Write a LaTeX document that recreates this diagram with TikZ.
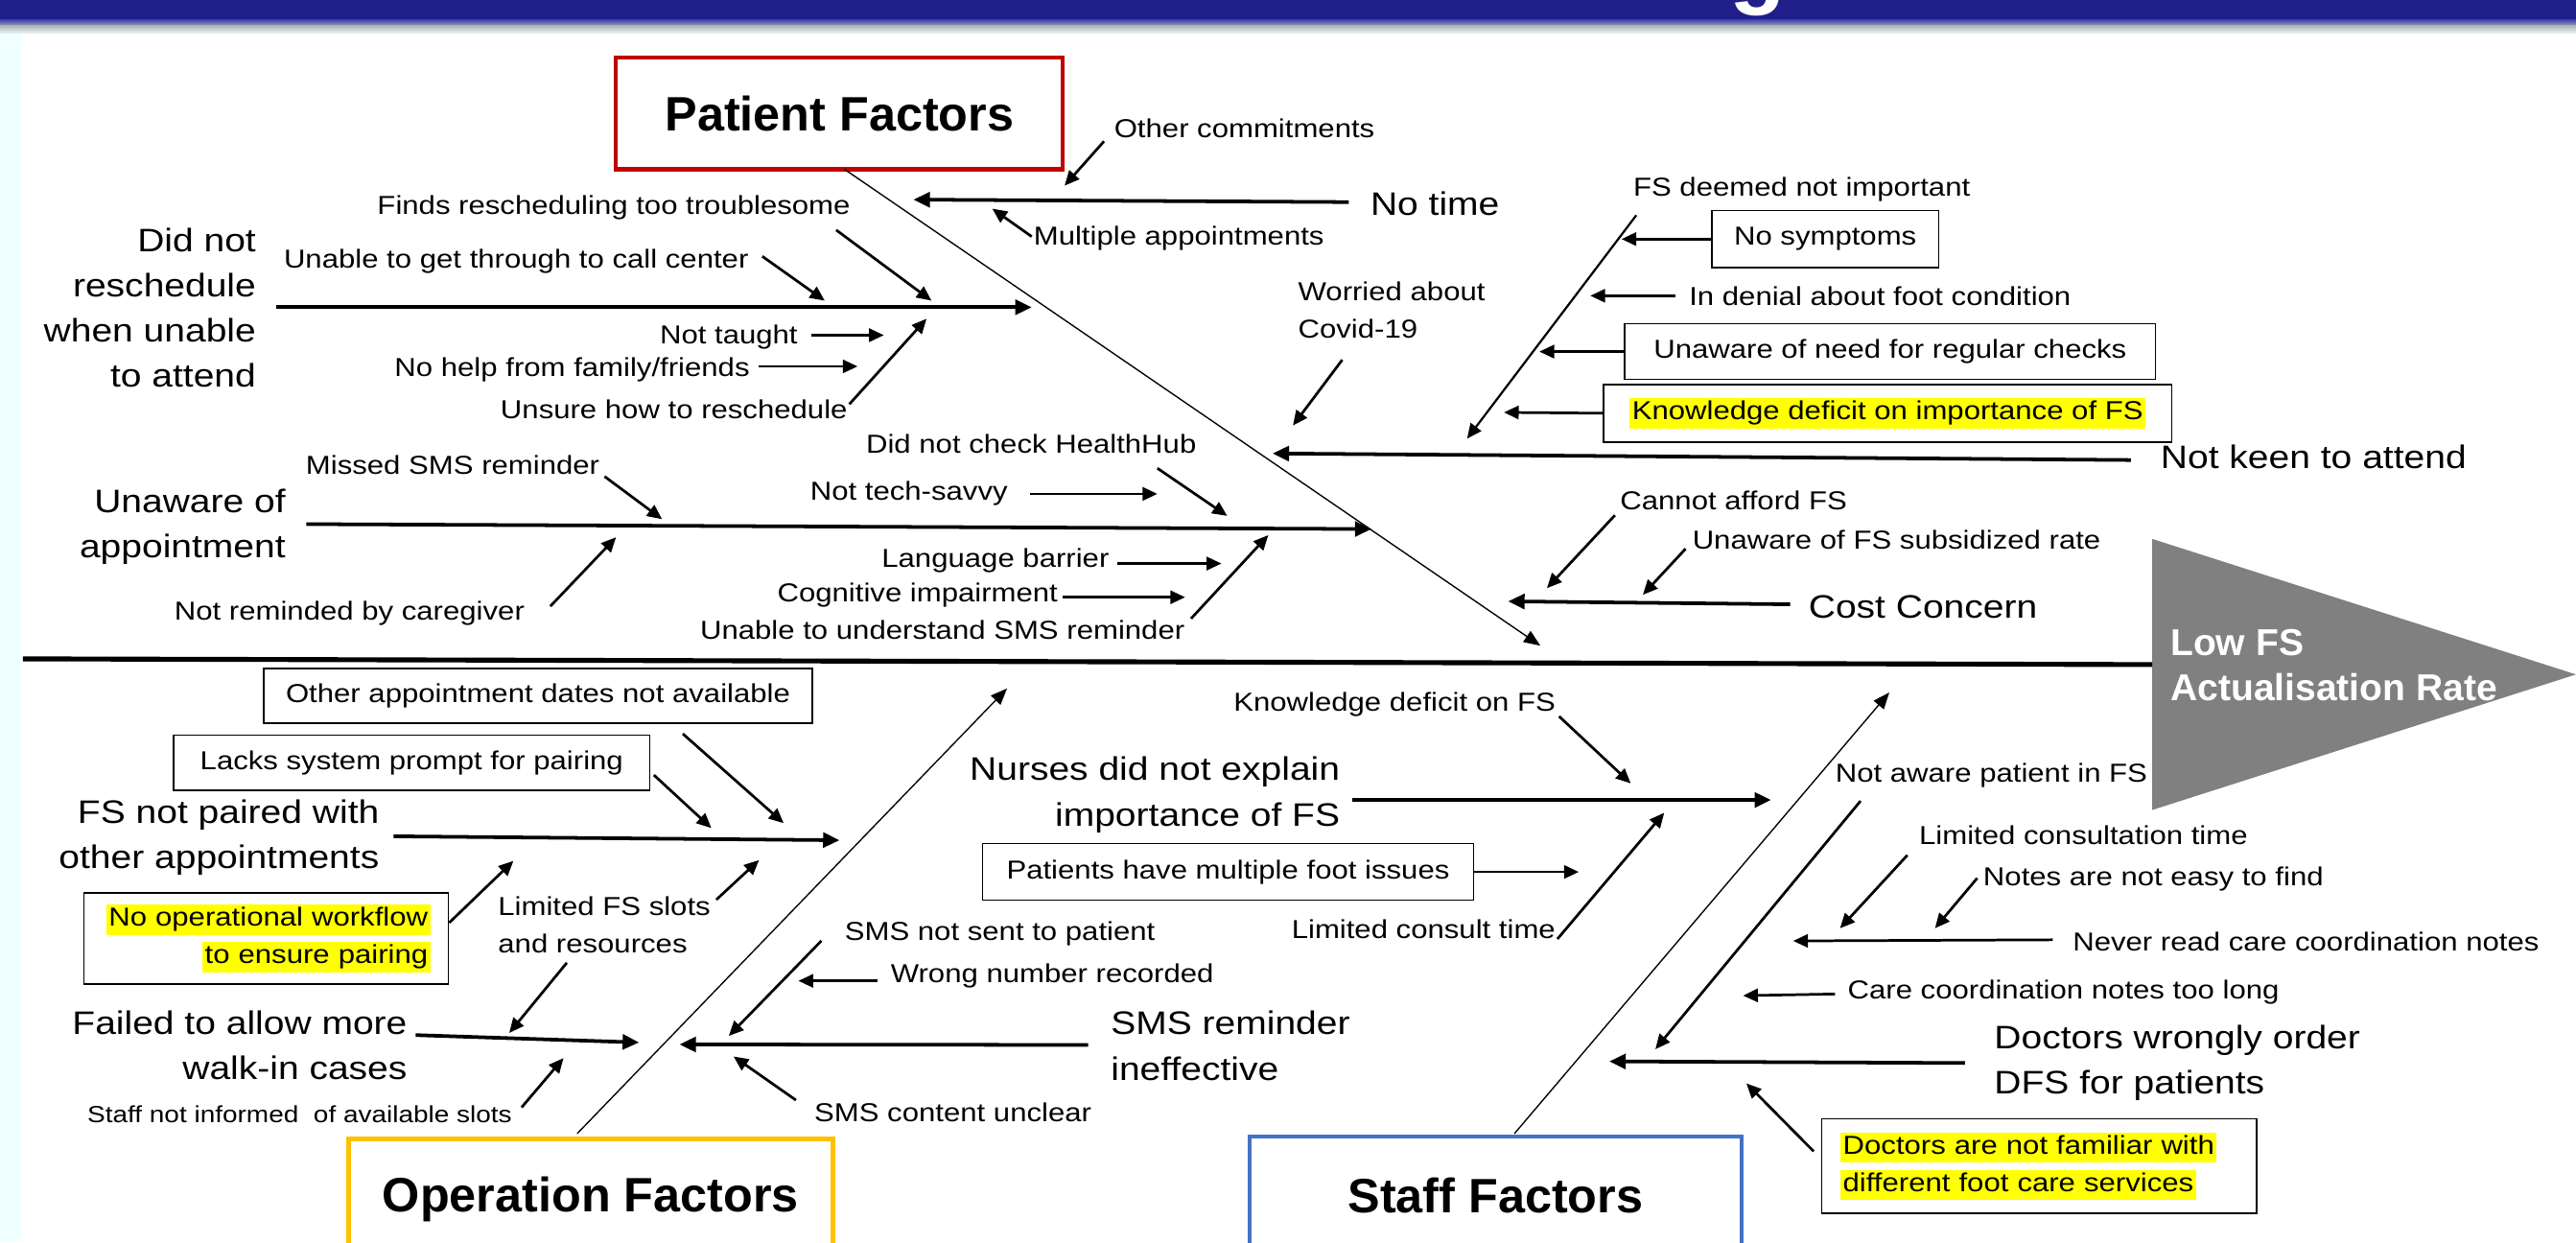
\documentclass[tikz,border=0pt]{standalone}
\usepackage{fontspec}
\setmainfont[FakeStretch=1.15]{Liberation Sans}
\newfontfamily\hdfont{Liberation Sans}
\usetikzlibrary{arrows.meta}

\definecolor{bandblue}{RGB}{32,31,138}
\definecolor{bandmid}{RGB}{70,70,170}
\definecolor{bandlow}{RGB}{150,150,188}
\definecolor{fadetop}{RGB}{172,182,180}
\definecolor{fadebot}{RGB}{236,246,246}
\definecolor{stripcyan}{RGB}{240,255,255}
\definecolor{patred}{RGB}{192,0,0}
\definecolor{opyellow}{RGB}{255,192,0}
\definecolor{stblue}{RGB}{68,114,196}
\definecolor{effgray}{RGB}{128,128,128}
\definecolor{hiyellow}{RGB}{255,255,0}

% yellow text highlight
\newcommand{\hlt}[1]{{\setlength{\fboxsep}{1.5pt}\colorbox{hiyellow}{\rule[-0.24em]{0pt}{0.98em}#1}}}

\begin{document}
\begin{tikzpicture}[x=1pt,y=-1pt,
  big/.style={font=\fontsize{19.8}{27.5}\selectfont, inner sep=0pt},
  med/.style={font=\fontsize{15.8}{22.8}\selectfont, inner sep=0pt},
  sml/.style={font=\fontsize{14.2}{17}\selectfont, inner sep=0pt},
  cat/.style={font=\hdfont\bfseries\fontsize{29.4}{32}\selectfont, line width=2.4pt, inner sep=0pt, fill=white},
  causebox/.style={draw=black, line width=0.9pt, inner sep=0pt, fill=white},
  spine/.style={line width=3pt},
  branch/.style={line width=2.2pt, -{Triangle[length=10pt,width=9pt]}},
  arr/.style={line width=1.6pt, -{Triangle[length=9pt,width=8pt]}},
  bone/.style={line width=0.8pt, -{Triangle[length=10pt,width=8pt]}},
]
\useasboundingbox (0,0) rectangle (1568,756);
\clip (0,0) rectangle (1568,756);

% slide background
\fill[white] (0,0) rectangle (1568,756);
\fill[stripcyan] (0,20) rectangle (13,756);
\fill[bandblue] (0,0) rectangle (1568,12.2);
\shade[top color=bandmid, bottom color=bandlow] (0,12) rectangle (1568,15.6);
\shade[top color=fadetop, bottom color=fadebot] (0,15.5) rectangle (1568,20.4);
\begin{scope}
  \clip (0,0) rectangle (1568,12.2);
  \node[text=white, font=\hdfont\bfseries\fontsize{56}{60}\selectfont, anchor=base, inner sep=0pt] (ttl) at (1070,-2) {g};
\end{scope}

% head and spine
\fill[effgray] (1310,328) -- (1568,410.5) -- (1310,493) -- cycle;
\node[font=\hdfont\bfseries\fontsize{22.8}{27.4}\selectfont, text=white, align=left, anchor=west, inner sep=0pt] (eff) at (1321,404.7) {Low FS\\Actualisation Rate};
\coordinate (tail) at (14,401);
\coordinate (head) at (1310,404.5);
\draw[spine] (tail) -- (head);

% category boxes
\node[cat, draw=patred, minimum width=272pt, minimum height=68pt] (pf) at (511,69) {Patient Factors};
\node[cat, draw=opyellow, line width=3pt, minimum width=295pt, minimum height=73.4pt] (of) at (359.5,729.7) {Operation Factors};
\node[cat, draw=stblue, minimum width=299.3pt, minimum height=72.2pt] (sf) at (910.3,727.9) {Staff Factors};

% main bones
\coordinate (pBoneS) at (514,103);   \coordinate (pBoneT) at (937.6,393);
\coordinate (oBoneS) at (351.3,690); \coordinate (oBoneT) at (613,419);
\coordinate (sBoneS) at (921.8,690); \coordinate (sBoneT) at (1150,421.5);
\draw[bone] (pBoneS) -- (pBoneT);
\draw[bone] (oBoneS) -- (oBoneT);
\draw[bone] (sBoneS) -- (sBoneT);

% ---------------- patient factors ----------------
\node[big, align=right, anchor=east] (pDid) at (156,187.5) {Did not\\reschedule\\when unable\\to attend};
\node[med, anchor=west] (pFinds) at (229.5,126.5) {Finds rescheduling too troublesome};
\node[med, anchor=west] (pCall) at (172.6,159) {Unable to get through to call center};
\node[med, anchor=east] (pTaught) at (485.7,205) {Not taught};
\node[med, anchor=east] (pHelp) at (456.5,225) {No help from family/friends};
\node[med, anchor=east] (pUnsure) at (516,249) {Unsure how to reschedule};

\node[big, align=right, anchor=east] (pUnaware) at (174,320.6) {Unaware of\\appointment};
\node[med, anchor=west] (pMissed) at (186,283) {Missed SMS reminder};
\node[med, anchor=west] (pCare) at (106,373.6) {Not reminded by caregiver};
\node[med, anchor=west] (pHub) at (527,270) {Did not check HealthHub};
\node[med, anchor=west] (pTech) at (493,300.6) {Not tech-savvy};
\node[med, anchor=west] (pLang) at (536.5,341) {Language barrier};
\node[med, anchor=west] (pCog) at (473,362) {Cognitive impairment};
\node[med, anchor=west] (pSMS) at (426,383.5) {Unable to understand SMS reminder};

\node[big, anchor=west] (pTime) at (834,124) {No time};
\node[med, anchor=west] (pOther) at (678,78) {Other commitments};
\node[med, anchor=west] (pMulti) at (629,145) {Multiple appointments};
\node[med, align=left, anchor=west] (pCovid) at (790,189) {Worried about\\Covid-19};

\node[med, anchor=west] (pDeemed) at (994,115) {FS deemed not important};
\node[med, causebox, minimum width=138pt, minimum height=35pt] (pSympt) at (1111,145.5) {No symptoms};
\node[med, anchor=west] (pDenial) at (1028,180) {In denial about foot condition};
\node[med, causebox, minimum width=323pt, minimum height=34pt] (pChecks) at (1150.5,214) {Unaware of need for regular checks};
\node[med, causebox, minimum width=346pt, minimum height=35pt] (pKnow) at (1149,251.5) {\hlt{Knowledge deficit on importance of FS}};
\node[big, anchor=west] (pKeen) at (1315,278) {Not keen to attend};

\node[med, anchor=west] (pAfford) at (986,304.5) {Cannot afford FS};
\node[med, anchor=west] (pRate) at (1030,328.8) {Unaware of FS subsidized rate};
\node[big, anchor=west] (pCost) at (1100.7,369.6) {Cost Concern};

% did not reschedule
\coordinate (pDidS) at (168,187);    \coordinate (pDidT) at (628,187);
\coordinate (pFindsS) at (509,140);  \coordinate (pFindsT) at (567,183);
\coordinate (pCallS) at (464,156);   \coordinate (pCallT) at (502,183);
\coordinate (pTaughtS) at (494,204); \coordinate (pTaughtT) at (538,204);
\coordinate (pHelpS) at (462,223);   \coordinate (pHelpT) at (522,223);
\coordinate (pUnsureS) at (517,246); \coordinate (pUnsureT) at (564,194);
\draw[branch] (pDidS) -- (pDidT);
\draw[arr] (pFindsS) -- (pFindsT);
\draw[arr] (pCallS) -- (pCallT);
\draw[arr] (pTaughtS) -- (pTaughtT);
\draw[arr] (pHelpS) -- (pHelpT);
\draw[arr] (pUnsureS) -- (pUnsureT);

% unaware of appointment
\coordinate (pUnS) at (186.4,319);   \coordinate (pUnT) at (834.8,322);
\coordinate (pMissedS) at (368,290); \coordinate (pMissedT) at (403,316);
\coordinate (pCareS) at (335,369);   \coordinate (pCareT) at (375,327);
\coordinate (pHubS) at (704.5,285);  \coordinate (pHubT) at (747,314);
\coordinate (pTechS) at (627,300.6); \coordinate (pTechT) at (704.5,300.6);
\coordinate (pLangS) at (680,343);   \coordinate (pLangT) at (743.5,343);
\coordinate (pCogS) at (647,363.5);  \coordinate (pCogT) at (721.4,363.5);
\coordinate (pSMSS) at (725,376.5);  \coordinate (pSMST) at (772,325.7);
\draw[branch] (pUnS) -- (pUnT);
\draw[arr] (pMissedS) -- (pMissedT);
\draw[arr] (pCareS) -- (pCareT);
\draw[arr] (pHubS) -- (pHubT);
\draw[arr] (pTechS) -- (pTechT);
\draw[arr] (pLangS) -- (pLangT);
\draw[arr] (pCogS) -- (pCogT);
\draw[arr] (pSMSS) -- (pSMST);

% no time
\coordinate (pTimeS) at (821,123);   \coordinate (pTimeT) at (556,121.5);
\coordinate (pOtherS) at (672,86);   \coordinate (pOtherT) at (648,113);
\coordinate (pMultiS) at (628,144);  \coordinate (pMultiT) at (604,127);
\draw[branch] (pTimeS) -- (pTimeT);
\draw[arr] (pOtherS) -- (pOtherT);
\draw[arr] (pMultiS) -- (pMultiT);

% not keen to attend
\coordinate (pKeenS) at (1297,280);  \coordinate (pKeenT) at (774.6,276);
\coordinate (pDeemS) at (996,131);   \coordinate (pDeemT) at (893,267);
\coordinate (pSymT) at (987,145.5);
\coordinate (pDenS) at (1020,180);   \coordinate (pDenT) at (968,180);
\coordinate (pChkT) at (937,214);
\coordinate (pKnwT) at (915.4,251);
\coordinate (pCovS) at (817,219);    \coordinate (pCovT) at (787,259);
\draw[branch] (pKeenS) -- (pKeenT);
\draw[line width=1.3pt, -{Triangle[length=9pt,width=8pt]}] (pDeemS) -- (pDeemT);
\draw[arr] (pSympt.west) -- (pSymT);
\draw[arr] (pDenS) -- (pDenT);
\draw[arr] (pChecks.west) -- (pChkT);
\draw[arr] (pKnow.west) -- (pKnwT);
\draw[arr] (pCovS) -- (pCovT);

% cost concern
\coordinate (pCostS) at (1089.7,367.8); \coordinate (pCostT) at (918,366);
\coordinate (pAffS) at (983,313.6);     \coordinate (pAffT) at (941.6,358);
\coordinate (pRateS) at (1026,334);     \coordinate (pRateT) at (1000,362);
\draw[branch] (pCostS) -- (pCostT);
\draw[arr] (pAffS) -- (pAffT);
\draw[arr] (pRateS) -- (pRateT);

% ---------------- operation factors ----------------
\node[big, align=right, anchor=east] (oPair) at (231,509.8) {FS not paired with\\other appointments};
\node[med, causebox, minimum width=334pt, minimum height=33pt] (oDates) at (327.5,423.5) {Other appointment dates not available};
\node[med, causebox, minimum width=290pt, minimum height=33.5pt] (oPrompt) at (250.6,464.3) {Lacks system prompt for pairing};
\node[med, causebox, align=right, text width=200pt, inner xsep=11pt, minimum height=55.5pt] (oFlow) at (162,571.2) {\hlt{No operational workflow}\\\hlt{to ensure pairing}};
\node[med, align=left, anchor=west] (oSlots) at (303,562.9) {Limited FS slots\\and resources};
\node[big, align=right, anchor=east] (oWalk) at (248,636.4) {Failed to allow more\\walk-in cases};
\node[sml, anchor=west] (oInform) at (53,678) {Staff not informed~ of available slots};
\node[big, align=left, anchor=west] (oSMS) at (676,636.5) {SMS reminder\\ineffective};
\node[med, anchor=west] (oSent) at (514,568) {SMS not sent to patient};
\node[med, anchor=west] (oWrong) at (542,594) {Wrong number recorded};
\node[med, anchor=west] (oUnclear) at (495.5,677) {SMS content unclear};

\coordinate (oPairS) at (239.5,509);  \coordinate (oPairT) at (511,511.4);
\coordinate (oDatesS) at (415.6,446.6); \coordinate (oDatesT) at (477,501);
\coordinate (oPromptS) at (398,471.7);  \coordinate (oPromptT) at (433,504);
\coordinate (oFlowT) at (312.5,524);
\coordinate (oSlotS) at (436,547.6);  \coordinate (oSlotT) at (462,523.5);
\draw[branch] (oPairS) -- (oPairT);
\draw[arr] (oDatesS) -- (oDatesT);
\draw[arr] (oPromptS) -- (oPromptT);
\draw[arr] (oFlow.east |- 0,561.6) -- (oFlowT);
\draw[arr] (oSlotS) -- (oSlotT);

\coordinate (oWalkS) at (253,630);    \coordinate (oWalkT) at (389,634.5);
\coordinate (oResS) at (345,586);     \coordinate (oResT) at (310,628.7);
\coordinate (oInfS) at (317.5,674);   \coordinate (oInfT) at (343,644);
\draw[branch] (oWalkS) -- (oWalkT);
\draw[arr] (oResS) -- (oResT);
\draw[arr] (oInfS) -- (oInfT);

\coordinate (oSMSS) at (662.4,636);   \coordinate (oSMST) at (413.6,635.7);
\coordinate (oSentS) at (500,572.6);  \coordinate (oSentT) at (443.6,630.5);
\coordinate (oWrongS) at (534,597);   \coordinate (oWrongT) at (486,597);
\coordinate (oUnclS) at (484.5,669.6); \coordinate (oUnclT) at (446.5,643);
\draw[branch] (oSMSS) -- (oSMST);
\draw[arr] (oSentS) -- (oSentT);
\draw[arr] (oWrongS) -- (oWrongT);
\draw[arr] (oUnclS) -- (oUnclT);

% ---------------- staff factors ----------------
\node[med, anchor=west] (sKnow) at (750.7,428.6) {Knowledge deficit on FS};
\node[big, align=right, anchor=east] (sNurse) at (815.8,483.8) {Nurses did not explain\\importance of FS};
\node[med, causebox, minimum width=299pt, minimum height=34.5pt] (sMulti) at (747.5,530.7) {Patients have multiple foot issues};
\node[med, anchor=west] (sConsult) at (786,565.6) {Limited consult time};
\node[med, anchor=west] (sAware) at (1117,471.9) {Not aware patient in FS};
\node[med, anchor=west] (sLimit) at (1168,508.5) {Limited consultation time};
\node[med, anchor=west] (sNotes) at (1207,535) {Notes are not easy to find};
\node[med, anchor=west] (sNever) at (1261.5,573.4) {Never read care coordination notes};
\node[med, anchor=west] (sLong) at (1124.5,604) {Care coordination notes too long};
\node[big, align=left, anchor=west] (sDoc) at (1213.7,646.7) {Doctors wrongly order\\DFS for patients};
\node[med, causebox, align=left, text width=242pt, inner xsep=11.4pt, minimum height=57.5pt] (sFam) at (1241.3,709.8) {\hlt{Doctors are not familiar with}\\\hlt{different foot care services}};

\coordinate (sNurseS) at (823,486.9);  \coordinate (sNurseT) at (1078,486.9);
\coordinate (sKnowS) at (949,436);     \coordinate (sKnowT) at (992.6,476.8);
\coordinate (sMultiT) at (961,530.7);
\coordinate (sConsS) at (948,571.5);   \coordinate (sConsT) at (1013,494.7);
\draw[branch] (sNurseS) -- (sNurseT);
\draw[arr] (sKnowS) -- (sKnowT);
\draw[arr] (sMulti.east) -- (sMultiT);
\draw[arr] (sConsS) -- (sConsT);

\coordinate (sAwareS) at (1132.5,487.5); \coordinate (sAwareT) at (1007.6,638.6);
\draw[arr] (sAwareS) -- (sAwareT);

\coordinate (sDocS) at (1196,647);     \coordinate (sDocT) at (979.6,646);
\coordinate (sNeverS) at (1249.4,572); \coordinate (sNeverT) at (1091.5,572.7);
\coordinate (sLimS) at (1161,520.5);   \coordinate (sLimT) at (1120,565);
\coordinate (sNotesS) at (1203.5,534.5); \coordinate (sNotesT) at (1177.8,565);
\coordinate (sLongS) at (1117,605);    \coordinate (sLongT) at (1061,606);
\coordinate (sFamS) at (1104,700.8);   \coordinate (sFamT) at (1063,659.4);
\draw[branch] (sDocS) -- (sDocT);
\draw[arr] (sNeverS) -- (sNeverT);
\draw[arr] (sLimS) -- (sLimT);
\draw[arr] (sNotesS) -- (sNotesT);
\draw[arr] (sLongS) -- (sLongT);
\draw[arr] (sFamS) -- (sFamT);
\end{tikzpicture}
\end{document}
